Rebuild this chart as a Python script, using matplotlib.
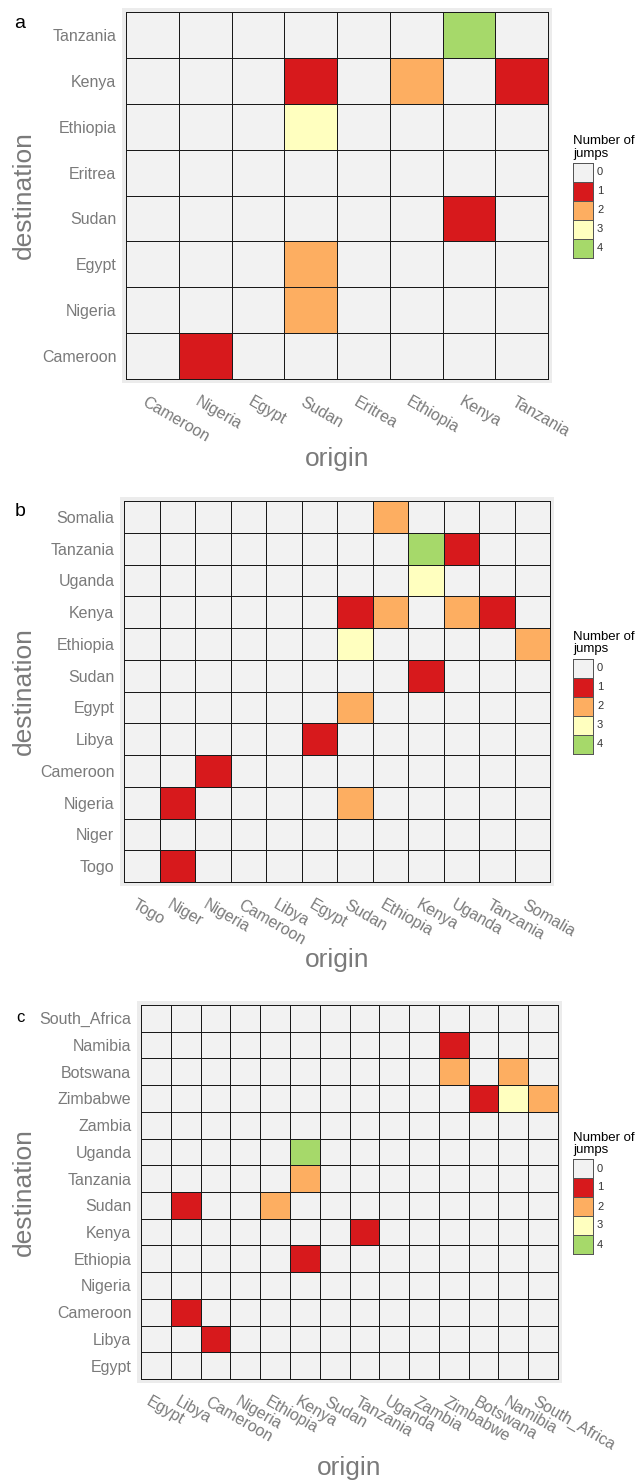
import matplotlib
matplotlib.use('Agg')
import matplotlib.pyplot as plt
import numpy as np
from matplotlib.colors import ListedColormap, BoundaryNorm
from matplotlib.patches import Rectangle
from matplotlib.transforms import ScaledTranslation

plt.rcParams['font.family'] = ['Liberation Sans', 'DejaVu Sans']

W, H = 637, 1480

# panel a
a_countries = ['Cameroon', 'Nigeria', 'Egypt', 'Sudan', 'Eritrea', 'Ethiopia', 'Kenya', 'Tanzania']
a_dest = ['Tanzania', 'Kenya', 'Kenya', 'Kenya', 'Ethiopia', 'Sudan', 'Egypt', 'Nigeria', 'Cameroon']
a_orig = ['Kenya', 'Sudan', 'Ethiopia', 'Tanzania', 'Sudan', 'Kenya', 'Sudan', 'Sudan', 'Nigeria']
a_jumps = [4, 1, 2, 1, 3, 1, 2, 2, 1]

# panel b
b_countries = ['Togo', 'Niger', 'Nigeria', 'Cameroon', 'Libya', 'Egypt', 'Sudan', 'Ethiopia',
               'Kenya', 'Uganda', 'Tanzania', 'Somalia']
b_dest = ['Somalia', 'Tanzania', 'Tanzania', 'Uganda', 'Kenya', 'Kenya', 'Kenya', 'Kenya',
          'Ethiopia', 'Ethiopia', 'Sudan', 'Egypt', 'Libya', 'Cameroon', 'Nigeria', 'Nigeria', 'Togo']
b_orig = ['Ethiopia', 'Kenya', 'Uganda', 'Kenya', 'Sudan', 'Ethiopia', 'Uganda', 'Tanzania',
          'Sudan', 'Somalia', 'Kenya', 'Sudan', 'Egypt', 'Nigeria', 'Niger', 'Sudan', 'Niger']
b_jumps = [2, 4, 1, 3, 1, 2, 2, 1, 3, 2, 1, 2, 1, 1, 1, 2, 1]

# panel c
c_countries = ['Egypt', 'Libya', 'Cameroon', 'Nigeria', 'Ethiopia', 'Kenya', 'Sudan', 'Tanzania',
               'Uganda', 'Zambia', 'Zimbabwe', 'Botswana', 'Namibia', 'South_Africa']
c_dest = ['Namibia', 'Botswana', 'Botswana', 'Zimbabwe', 'Zimbabwe', 'Zimbabwe', 'Uganda', 'Tanzania',
          'Sudan', 'Sudan', 'Kenya', 'Ethiopia', 'Cameroon', 'Libya']
c_orig = ['Zimbabwe', 'Zimbabwe', 'Namibia', 'Botswana', 'Namibia', 'South_Africa', 'Kenya', 'Kenya',
          'Libya', 'Ethiopia', 'Tanzania', 'Kenya', 'Libya', 'Cameroon']
c_jumps = [1, 2, 2, 1, 3, 2, 4, 2, 1, 2, 1, 1, 1, 1]

legend_levels = [0, 1, 2, 3, 4]
colors = ['#f2f2f2', '#d7191c', '#fdae61', '#ffffbf', '#a6d96a']
cmap = ListedColormap(colors)
norm = BoundaryNorm(np.arange(-0.5, 5.5, 1), cmap.N)

GREY = '#7a7a7a'

fig = plt.figure(figsize=(W / 100, H / 100), dpi=100)


def px_axes(l, t, r, b):
    return fig.add_axes([l / W, 1 - b / H, (r - l) / W, (b - t) / H])


def draw_panel(countries, dest, orig, jumps, box, letter, letter_y, letter_size, origin_y):
    l, t, r, b = box
    n = len(countries)
    m = np.zeros((n, n))
    for d, o, v in zip(dest, orig, jumps):
        m[countries.index(d), countries.index(o)] = v

    # ggplot-like grey panel behind the tiles
    fig.patches.append(Rectangle(((l - 4) / W, 1 - (b + 4) / H), (r - l + 8) / W, (b - t + 8) / H,
                                 transform=fig.transFigure, facecolor='#ececec',
                                 edgecolor='none', zorder=-10))
    ax = px_axes(l, t, r, b)
    ax.set_facecolor('none')
    mesh = ax.pcolormesh(np.arange(n + 1), np.arange(n + 1), m, cmap=cmap, norm=norm,
                         edgecolors='#1a1a1a', linewidth=0.55)
    mesh.set_clip_on(False)
    ax.set_xlim(0, n)
    ax.set_ylim(0, n)
    for s in ax.spines.values():
        s.set_visible(False)
    ax.set_xticks(np.arange(n) + 0.5)
    ax.set_yticks(np.arange(n) + 0.5)
    ax.set_xticklabels(countries, rotation=-30, ha='left', va='top', rotation_mode='anchor')
    ax.set_yticklabels(countries)
    ax.tick_params(axis='x', length=0, pad=11, labelsize=11.5, labelcolor=GREY)
    ax.tick_params(axis='y', length=0, pad=7, labelsize=11.5, labelcolor=GREY)
    shift = ScaledTranslation(-5 / 100, 0, fig.dpi_scale_trans)
    for lab in ax.get_xticklabels():
        lab.set_transform(lab.get_transform() + shift)

    cy = (t + b) / 2
    fig.text(24 / W, 1 - cy / H, 'destination', rotation=90, ha='center', va='center',
             fontsize=19, color=GREY)
    fig.text(((l + r) / 2) / W, 1 - origin_y / H, 'origin', ha='center', va='center',
             fontsize=19, color=GREY)
    fig.text(20 / W, 1 - letter_y / H, letter, ha='center', va='center',
             fontsize=letter_size, color='black')

    # legend
    box_top = cy - 33
    lax = px_axes(573, box_top, 593, box_top + 95)
    lax.pcolormesh(np.array([0, 1]), np.arange(6), np.array(legend_levels).reshape(-1, 1),
                   cmap=cmap, norm=norm, edgecolors='#555555', linewidth=0.6).set_clip_on(False)
    lax.set_xlim(0, 1)
    lax.set_ylim(5, 0)
    lax.axis('off')
    for i, v in enumerate(legend_levels):
        fig.text(597 / W, 1 - (box_top + 9.5 + 19 * i) / H, str(v), ha='left', va='center',
                 fontsize=8, color='#333333')
    fig.text(573 / W, 1 - (box_top - 3) / H, 'Number of\njumps', ha='left', va='bottom',
             fontsize=9.5, color='black', linespacing=1.0)


draw_panel(a_countries, a_dest, a_orig, a_jumps, (126, 12, 548, 379), 'a', 23, 14, 459)
draw_panel(b_countries, b_dest, b_orig, b_jumps, (124, 501, 550, 882), 'b', 512, 14, 960)
draw_panel(c_countries, c_dest, c_orig, c_jumps, (141, 1005, 558, 1379), 'c', 1018, 12, 1468)

fig.savefig('out.png', dpi=100, facecolor='white')
